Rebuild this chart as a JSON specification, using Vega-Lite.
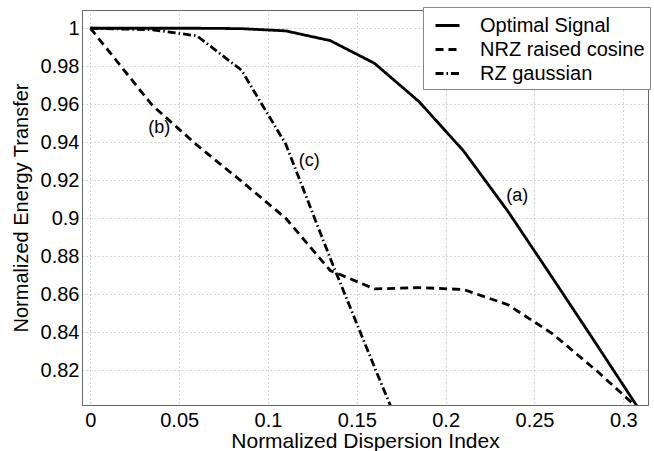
{
  "$schema": "https://vega.github.io/schema/vega-lite/v6.json",
  "width": 566,
  "height": 395,
  "autosize": {"type": "none"},
  "padding": {"left": 82, "top": 10, "right": 6, "bottom": 46},
  "background": "white",
  "config": {
    "font": "Liberation Sans",
    "view": {"stroke": "#666", "strokeWidth": 1},
    "axis": {
      "grid": true,
      "gridDash": [1, 3],
      "gridColor": "#aaa",
      "gridWidth": 1,
      "domainColor": "#666",
      "ticks": false,
      "labelFontSize": 20,
      "labelColor": "black",
      "titleFontSize": 20,
      "titleFontWeight": "normal",
      "titleColor": "black"
    }
  },
  "datasets": {
    "curves": [
      {"series": "Optimal Signal", "x": 0, "y": 1.0},
      {"series": "Optimal Signal", "x": 0.035, "y": 1.0},
      {"series": "Optimal Signal", "x": 0.06, "y": 1.0},
      {"series": "Optimal Signal", "x": 0.085, "y": 0.9998},
      {"series": "Optimal Signal", "x": 0.11, "y": 0.9986},
      {"series": "Optimal Signal", "x": 0.135, "y": 0.9935},
      {"series": "Optimal Signal", "x": 0.16, "y": 0.9815},
      {"series": "Optimal Signal", "x": 0.185, "y": 0.9614},
      {"series": "Optimal Signal", "x": 0.21, "y": 0.9355},
      {"series": "Optimal Signal", "x": 0.235, "y": 0.9037},
      {"series": "Optimal Signal", "x": 0.26, "y": 0.8688},
      {"series": "Optimal Signal", "x": 0.285, "y": 0.8335},
      {"series": "Optimal Signal", "x": 0.31, "y": 0.7978},
      {"series": "NRZ raised cosine", "x": 0, "y": 1.0},
      {"series": "NRZ raised cosine", "x": 0.035, "y": 0.9593},
      {"series": "NRZ raised cosine", "x": 0.06, "y": 0.9385},
      {"series": "NRZ raised cosine", "x": 0.085, "y": 0.9195},
      {"series": "NRZ raised cosine", "x": 0.11, "y": 0.9},
      {"series": "NRZ raised cosine", "x": 0.135, "y": 0.8725},
      {"series": "NRZ raised cosine", "x": 0.16, "y": 0.8628},
      {"series": "NRZ raised cosine", "x": 0.185, "y": 0.8635},
      {"series": "NRZ raised cosine", "x": 0.21, "y": 0.8625},
      {"series": "NRZ raised cosine", "x": 0.235, "y": 0.8545},
      {"series": "NRZ raised cosine", "x": 0.26, "y": 0.8393},
      {"series": "NRZ raised cosine", "x": 0.285, "y": 0.8197},
      {"series": "NRZ raised cosine", "x": 0.31, "y": 0.7985},
      {"series": "RZ gaussian", "x": 0, "y": 1.0},
      {"series": "RZ gaussian", "x": 0.035, "y": 0.9992},
      {"series": "RZ gaussian", "x": 0.06, "y": 0.996},
      {"series": "RZ gaussian", "x": 0.085, "y": 0.978},
      {"series": "RZ gaussian", "x": 0.11, "y": 0.939},
      {"series": "RZ gaussian", "x": 0.135, "y": 0.879},
      {"series": "RZ gaussian", "x": 0.16, "y": 0.8215},
      {"series": "RZ gaussian", "x": 0.185, "y": 0.765}
    ],
    "labels": [
      {"text": "(a)", "x": 0.2403, "y": 0.9117},
      {"text": "(b)", "x": 0.0388, "y": 0.9474},
      {"text": "(c)", "x": 0.1232, "y": 0.9303}
    ]
  },
  "layer": [
    {
      "data": {"name": "curves"},
      "mark": {"type": "line", "color": "black", "strokeWidth": 2.8, "clip": true},
      "encoding": {
        "x": {
          "field": "x",
          "type": "quantitative",
          "scale": {"domain": [-0.0047, 0.3139], "nice": false, "zero": false},
          "axis": {
            "title": "Normalized Dispersion Index",
            "titleFontSize": 21,
            "values": [0, 0.05, 0.1, 0.15, 0.2, 0.25, 0.3],
            "format": "~g",
            "labelPadding": 5,
            "titlePadding": 0
          }
        },
        "y": {
          "field": "y",
          "type": "quantitative",
          "scale": {"domain": [0.8017, 1.0096], "nice": false, "zero": false},
          "axis": {
            "title": "Normalized Energy Transfer",
            "values": [0.82, 0.84, 0.86, 0.88, 0.9, 0.92, 0.94, 0.96, 0.98, 1],
            "format": "~g",
            "labelPadding": 3,
            "titlePadding": 9
          }
        },
        "strokeDash": {
          "field": "series",
          "type": "nominal",
          "scale": {
            "domain": ["Optimal Signal", "NRZ raised cosine", "RZ gaussian"],
            "range": [[1, 0], [8, 5], [8, 3, 1.5, 3]]
          },
          "legend": {
            "title": null,
            "orient": "none",
            "legendX": 341,
            "legendY": -3,
            "fillColor": "white",
            "strokeColor": "#888",
            "padding": 5,
            "symbolType": "stroke",
            "symbolSize": 576,
            "symbolStrokeWidth": 2.8,
            "symbolStrokeColor": "black",
            "symbolOffset": 6,
            "labelFontSize": 20,
            "labelColor": "black",
            "labelOffset": 19,
            "rowPadding": 0,
            "labelLimit": 300
          }
        }
      }
    },
    {
      "data": {"name": "labels"},
      "mark": {"type": "text", "fontSize": 18, "color": "black", "align": "center", "baseline": "middle"},
      "encoding": {
        "x": {"field": "x", "type": "quantitative"},
        "y": {"field": "y", "type": "quantitative"},
        "text": {"field": "text"}
      }
    }
  ]
}
